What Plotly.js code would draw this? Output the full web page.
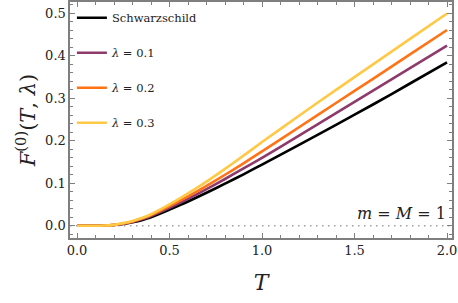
<!DOCTYPE html>
<html>
<head>
<meta charset="utf-8">
<script src="https://cdn.plot.ly/plotly-3.0.1.min.js"></script>
<style>html,body{margin:0;padding:0;background:#fff}#chart{width:458px;height:303px}</style>
</head>
<body>
<div id="chart"></div>
<script>
const T = [0, 0.05, 0.1, 0.15, 0.2, 0.25, 0.3, 0.35, 0.4, 0.5, 0.6, 0.7, 0.8, 0.9, 1.0, 1.2, 1.4, 1.6, 1.8, 2.0];
const schwarzschild = [0, 0, 0, 0.0003, 0.0015, 0.004, 0.008, 0.013, 0.020, 0.038, 0.057, 0.0775, 0.099, 0.121, 0.144, 0.1905, 0.2375, 0.2855, 0.335, 0.385];
const lambda01 = [0, 0, 0, 0.0003, 0.0017, 0.0045, 0.009, 0.015, 0.023, 0.042, 0.063, 0.086, 0.110, 0.135, 0.160, 0.212, 0.265, 0.318, 0.371, 0.424];
const lambda02 = [0, 0, 0, 0.0004, 0.002, 0.005, 0.010, 0.017, 0.025, 0.046, 0.069, 0.094, 0.120, 0.147, 0.175, 0.232, 0.289, 0.346, 0.4035, 0.461];
const lambda03 = [0, 0, 0, 0.0004, 0.002, 0.006, 0.011, 0.018, 0.027, 0.050, 0.076, 0.104, 0.134, 0.165, 0.197, 0.259, 0.320, 0.380, 0.440, 0.500];
const seriesNames = ["Schwarzschild", "<i>λ</i> = 0.1", "<i>λ</i> = 0.2", "<i>λ</i> = 0.3"];
const seriesColors = ["#000000", "#8e3a6b", "#ff7315", "#ffc845"];
const seriesValues = [schwarzschild, lambda01, lambda02, lambda03];
const xTickVals = [0, 0.5, 1.0, 1.5, 2.0];
const xTickText = ["0.0", "0.5", "1.0", "1.5", "2.0"];
const yTickVals = [0, 0.1, 0.2, 0.3, 0.4, 0.5];
const yTickText = ["0.0", "0.1", "0.2", "0.3", "0.4", "0.5"];

const serif = "DejaVu Serif";
const traces = seriesValues.map((v, i) => ({
  x: T, y: v, type: "scatter", mode: "lines", name: seriesNames[i],
  legendgroup: "g" + i,
  line: {color: seriesColors[i], width: 2.6, shape: "spline", smoothing: 0.8}
}));

const axisCommon = {
  showline: true, linecolor: "#7f7f7f", linewidth: 1.6, mirror: "allticks",
  ticks: "inside", ticklen: 5, tickwidth: 1, tickcolor: "#7f7f7f",
  showgrid: false, zeroline: false,
  tickfont: {family: serif, size: 13, color: "#222"}
};

const layout = {
  width: 458, height: 303,
  margin: {l: 70, r: 6, t: 2, b: 65},
  paper_bgcolor: "#fff", plot_bgcolor: "#fff",
  font: {family: serif},
  showlegend: true,
  legend: {x: 0.005, y: 0.995, xanchor: "left", yanchor: "top", bgcolor: "rgba(0,0,0,0)",
           font: {family: serif, size: 11.5, color: "#222"}, traceorder: "grouped", tracegroupgap: 16},
  xaxis: Object.assign({}, axisCommon, {
    range: [-0.038, 2.027], tickvals: xTickVals, ticktext: xTickText,
    minor: {dtick: 0.1, tick0: 0, ticks: "inside", ticklen: 3, tickcolor: "#7f7f7f", tickwidth: 1, showgrid: false},
    title: {text: "<i>T</i>", font: {family: serif, size: 22, color: "#222"}, standoff: 17}
  }),
  yaxis: Object.assign({}, axisCommon, {
    range: [-0.029, 0.527], tickvals: yTickVals, ticktext: yTickText,
    minor: {dtick: 0.02, tick0: 0, ticks: "inside", ticklen: 3, tickcolor: "#7f7f7f", tickwidth: 1, showgrid: false},
    title: {text: "<i>F</i><sup>(0)</sup>(<i>T</i>, <i>λ</i>)", font: {family: serif, size: 21, color: "#222"}, standoff: 4}
  }),
  shapes: [{type: "line", xref: "paper", x0: 0, x1: 1, yref: "y", y0: 0, y1: 0,
            line: {color: "#a0a0a0", width: 1.5, dash: "1.5px,4.5px"}, layer: "below"}],
  annotations: [{xref: "paper", x: 0.99, xanchor: "right", yref: "y", y: 0.002, yanchor: "bottom",
                 text: "<i>m</i> = <i>M</i> = 1", showarrow: false,
                 font: {family: serif, size: 16, color: "#222"}}]
};

Plotly.newPlot("chart", traces, layout, {displayModeBar: false, staticPlot: true});
</script>
</body>
</html>
